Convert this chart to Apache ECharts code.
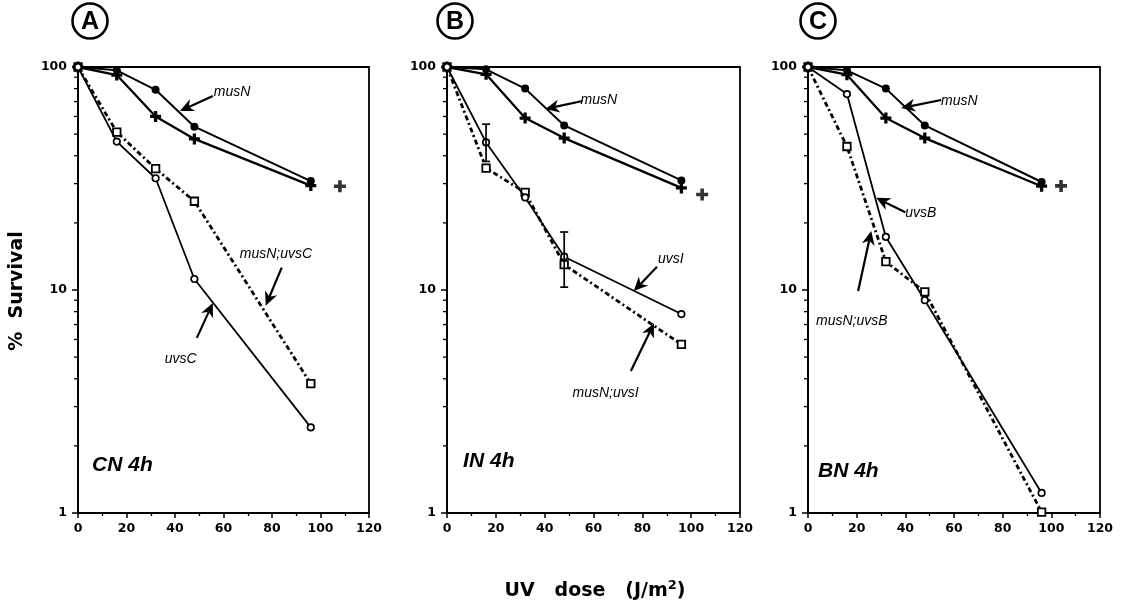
<!DOCTYPE html>
<html><head><meta charset="utf-8">
<script src="https://cdn.jsdelivr.net/npm/echarts@6/dist/echarts.min.js"></script>
<style>html,body{margin:0;padding:0;background:#fff}#c{width:1128px;height:606px}</style>
</head><body><div id="c"></div><script>
// ---------- data ----------
const doses = [0, 16, 32, 48, 96];
const xTickLabels = ['0', '20', '40', '60', '80', '100', '120'];
const yTickLabels = ['1', '10', '100'];
const minorYValues = [2, 3, 4, 5, 6, 7, 8, 9, 20, 30, 40, 50, 60, 70, 80, 90];

// Panel A (CN 4h)
const musN_A = [100, 96.6, 79, 54, 30.8];
const wt_A = [100, 92, 60, 47.6, 29.4];
const uvsC_A = [100, 46.3, 31.7, 11.2, 2.42];
const musNuvsC_A = [100, 51, 35, 25, 3.8];
const wtExtra_A = [[108, 29.2]];

// Panel B (IN 4h)
const musN_B = [100, 97.6, 80, 54.7, 31];
const wt_B = [100, 92.7, 59, 48, 28.7];
const uvsI_B = [100, 45.9, 26, 14.1, 7.8];
const musNuvsI_B = [100, 35.2, 27.4, 13.0, 5.7];
const wtExtra_B = [[104.5, 26.8]];
const uvsI_errDose = [16, 48];
const uvsI_errLow = [37.7, 10.3];
const uvsI_errHigh = [55.4, 18.2];

// Panel C (BN 4h)
const musN_C = [100, 96.6, 80, 54.7, 30.5];
const wt_C = [100, 92.4, 59, 48, 29.2];
const uvsB_C = [100, 75.6, 17.3, 9.0, 1.23];
const musNuvsB_C = [100, 44, 13.4, 9.8, 1.01];
const wtExtra_C = [[104, 29.3]];

// annotations (data coordinates): [text, x, y]  and arrows [x1, y1, x2, y2]
const textsA = [['musN', 56, 77.3], ['musN;uvsC', 66.7, 14.5], ['uvsC', 35.8, 4.9]];
const arrowsA = [[55.6, 74.1, 42, 63.5], [84, 12.6, 77.4, 8.5], [49, 6.1, 55.6, 8.75]];
const textsB = [['musN', 54.7, 71.1], ['uvsI', 86.4, 13.8], ['musN;uvsI', 51.4, 3.45]];
const arrowsB = [[55.5, 70.4, 40.3, 64.8], [86, 12.7, 76.5, 9.9], [75.3, 4.33, 84.8, 7.1]];
const textsC = [['musN', 54.7, 70.5], ['uvsB', 40, 22.1], ['musN;uvsB', 3.3, 7.26]];
const arrowsC = [[54.7, 71.1, 38.3, 65.5], [40, 22.3, 28, 25.9], [20.6, 9.9, 26, 18.4]];
const conditionLabels = [['CN 4h', 5.8, 1.63], ['IN 4h', 6.6, 1.71], ['BN 4h', 4.1, 1.54]];
const panelLetters = ['A', 'B', 'C'];

// ---------- chart ----------
const chart = echarts.init(document.getElementById('c'), null, {renderer: 'canvas'});
const FONT = 'DejaVu Sans';
const SANS = 'Liberation Sans';
const plusPath = 'path://M3.5,0H6.5V3.5H10V6.5H6.5V10H3.5V6.5H0V3.5H3.5Z';
const pairs = (xs, ys) => xs.map((x, i) => [x, ys[i]]);

const gridDefs = [
  {left: 78, width: 291, letterX: 90},
  {left: 447, width: 293, letterX: 455},
  {left: 808, width: 292, letterX: 818}
];
const TOP = 67, HEIGHT = 446;

const panels = [
  {musN: musN_A, wt: wt_A, single: uvsC_A, dbl: musNuvsC_A, extra: wtExtra_A, texts: textsA, arrows: arrowsA, sName: 'uvsC', dName: 'musN;uvsC'},
  {musN: musN_B, wt: wt_B, single: uvsI_B, dbl: musNuvsI_B, extra: wtExtra_B, texts: textsB, arrows: arrowsB, sName: 'uvsI', dName: 'musN;uvsI'},
  {musN: musN_C, wt: wt_C, single: uvsB_C, dbl: musNuvsB_C, extra: wtExtra_C, texts: textsC, arrows: arrowsC, sName: 'uvsB', dName: 'musN;uvsB'}
];

const grid = [], xAxis = [], yAxis = [], series = [];
const labelStyle = {color: '#000', fontFamily: FONT, fontWeight: 'bold', fontSize: 12.5};

panels.forEach((p, i) => {
  grid.push({left: gridDefs[i].left, width: gridDefs[i].width, top: TOP, height: HEIGHT,
    show: true, borderColor: '#000', borderWidth: 1.8, backgroundColor: 'transparent'});
  xAxis.push({type: 'value', gridIndex: i, min: 0, max: 120, interval: 20,
    axisLine: {show: true, onZero: false, lineStyle: {color: '#000', width: 1.8}},
    axisTick: {show: true, length: 5, lineStyle: {color: '#000', width: 1.5}},
    minorTick: {show: true, splitNumber: 2, length: 3, lineStyle: {color: '#000', width: 1.3}},
    splitLine: {show: false},
    axisLabel: Object.assign({margin: 9, formatter: v => xTickLabels[Math.round(v / 20)]}, labelStyle)});
  yAxis.push({type: 'log', logBase: 10, gridIndex: i, min: 1, max: 100,
    axisLine: {show: true, onZero: false, lineStyle: {color: '#000', width: 1.8}},
    axisTick: {show: true, length: 6, lineStyle: {color: '#000', width: 1.5}},
    splitLine: {show: false},
    axisLabel: Object.assign({margin: 11, formatter: v => yTickLabels[Math.round(Math.log10(v))]}, labelStyle)});

  const common = {xAxisIndex: i, yAxisIndex: i, animation: false, silent: true};
  series.push(Object.assign({type: 'line', name: 'wild type', data: pairs(doses, p.wt),
    symbol: plusPath, symbolSize: 11, itemStyle: {color: '#000'},
    lineStyle: {color: '#000', width: 2.3}, z: 3}, common));
  series.push(Object.assign({type: 'line', name: 'musN', data: pairs(doses, p.musN),
    symbol: 'circle', symbolSize: 8, itemStyle: {color: '#000'},
    lineStyle: {color: '#000', width: 2}, z: 3}, common));
  series.push(Object.assign({type: 'line', name: p.dName, data: pairs(doses, p.dbl),
    symbol: 'rect', symbolSize: 7.5, itemStyle: {color: '#fff', borderColor: '#000', borderWidth: 1.8},
    lineStyle: {color: '#000', width: 2.8, type: [5, 3, 2, 3]}, z: 4}, common));
  series.push(Object.assign({type: 'line', name: p.sName, data: pairs(doses, p.single),
    symbol: 'circle', symbolSize: 6.5, itemStyle: {color: '#fff', borderColor: '#000', borderWidth: 1.7},
    lineStyle: {color: '#000', width: 1.8}, z: 5}, common));
  series.push(Object.assign({type: 'scatter', name: 'wild type ref', data: p.extra,
    symbol: plusPath, symbolSize: 12, itemStyle: {color: '#000'}, z: 3}, common));
  series.push(Object.assign({type: 'custom', name: 'minor y ticks', clip: false,
    data: minorYValues.map(v => [0, v]),
    renderItem: (params, api) => {
      const c = api.coord([api.value(0), api.value(1)]);
      return {type: 'line', shape: {x1: c[0] - 4, y1: c[1], x2: c[0], y2: c[1]},
        style: {stroke: '#000', lineWidth: 1.3}};
    }}, common));
});

// error bars on uvsI (panel B)
series.push({type: 'custom', name: 'uvsI error', xAxisIndex: 1, yAxisIndex: 1, silent: true, animation: false, z: 6,
  data: uvsI_errDose.map((d, k) => [d, uvsI_errLow[k], uvsI_errHigh[k]]),
  renderItem: (params, api) => {
    const lo = api.coord([api.value(0), api.value(1)]);
    const hi = api.coord([api.value(0), api.value(2)]);
    const w = 4;
    const st = {stroke: '#000', lineWidth: 1.7};
    return {type: 'group', children: [
      {type: 'line', shape: {x1: lo[0], y1: lo[1], x2: hi[0], y2: hi[1]}, style: st},
      {type: 'line', shape: {x1: lo[0] - w, y1: lo[1], x2: lo[0] + w, y2: lo[1]}, style: st},
      {type: 'line', shape: {x1: hi[0] - w, y1: hi[1], x2: hi[0] + w, y2: hi[1]}, style: st}
    ]};
  }});

chart.setOption({animation: false, backgroundColor: '#fff', grid, xAxis, yAxis, series});

// ---------- annotations ----------
function arrowEls(p1, p2) {
  const dx = p2[0] - p1[0], dy = p2[1] - p1[1], L = Math.hypot(dx, dy);
  const ux = dx / L, uy = dy / L, nx = -uy, ny = ux;
  const hl = 14, hw = 6.5;
  const base = [p2[0] - ux * hl, p2[1] - uy * hl];
  const notch = [p2[0] - ux * hl * 0.7, p2[1] - uy * hl * 0.7];
  return [
    {type: 'line', shape: {x1: p1[0], y1: p1[1], x2: notch[0], y2: notch[1]}, style: {stroke: '#000', lineWidth: 2.2}},
    {type: 'polygon', shape: {points: [p2, [base[0] + nx * hw, base[1] + ny * hw], notch, [base[0] - nx * hw, base[1] - ny * hw]]},
      style: {fill: '#000'}}
  ];
}
const graphics = [];
panels.forEach((p, i) => {
  const toPx = (x, y) => chart.convertToPixel({gridIndex: i}, [x, y]);
  p.texts.forEach(t => {
    const c = toPx(t[1], t[2]);
    graphics.push({type: 'text', x: c[0], y: c[1], silent: true,
      style: {text: t[0], font: 'italic 14px "' + SANS + '"', fill: '#000', align: 'left', verticalAlign: 'middle'}});
  });
  p.arrows.forEach(a => { arrowEls(toPx(a[0], a[1]), toPx(a[2], a[3])).forEach(e => graphics.push(e)); });
  const cl = conditionLabels[i];
  const cc = toPx(cl[1], cl[2]);
  graphics.push({type: 'text', x: cc[0], y: cc[1], silent: true,
    style: {text: cl[0], font: 'italic bold 21px "' + SANS + '"', fill: '#000', align: 'left', verticalAlign: 'middle'}});
  // circled panel letter
  const lx = gridDefs[i].letterX, ly = 21;
  graphics.push({type: 'circle', shape: {cx: lx, cy: ly, r: 17.5}, style: {fill: 'none', stroke: '#000', lineWidth: 2.6}, silent: true});
  graphics.push({type: 'text', x: lx, y: ly + 1, silent: true,
    style: {text: panelLetters[i], font: 'bold 25px "' + SANS + '"', fill: '#000', align: 'center', verticalAlign: 'middle'}});
});
graphics.push({type: 'text', x: 17, y: 291, rotation: Math.PI / 2, silent: true,
  style: {text: '%  Survival', font: 'bold 19px "' + FONT + '"', fill: '#000', align: 'center', verticalAlign: 'middle'}});
graphics.push({type: 'text', x: 595, y: 590, silent: true,
  style: {text: '{a|UV   dose   (J/m}{s|2}{a|)}', align: 'center', verticalAlign: 'middle',
    rich: {a: {font: 'bold 19px "' + FONT + '"', fill: '#000', lineHeight: 22, verticalAlign: 'bottom'},
           s: {font: 'bold 13px "' + FONT + '"', fill: '#000', lineHeight: 22, verticalAlign: 'top'}}}});
chart.setOption({graphic: graphics});
</script></body></html>
